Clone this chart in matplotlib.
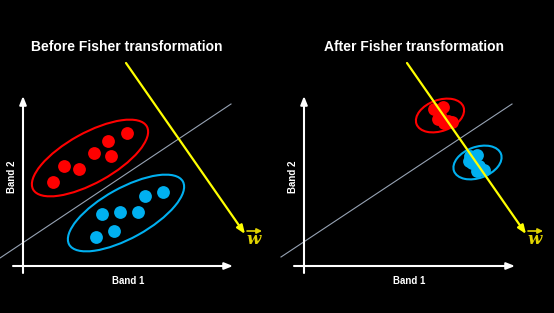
import matplotlib.pyplot as plt
from matplotlib.patches import Ellipse

# pixel-style coordinates, y grows downward
red_before_x = [53, 64, 79, 94, 108, 111, 127]
red_before_y = [182, 166, 169, 153, 141, 156, 133]
blue_before_x = [96, 114, 102, 120, 138, 145, 163]
blue_before_y = [237, 231, 214, 212, 212, 196, 192]

red_after_x = [434, 443, 440, 438, 448, 452, 444]
red_after_y = [109, 107, 115, 119, 121, 122, 123]
blue_after_x = [470, 477, 472, 479, 484, 477, 469]
blue_after_y = [156, 155, 163, 166, 170, 171, 161]

# (cx, cy, width, height, angle)
ellipses_before = [(90, 158, 130, 50, -29), (126, 213, 130, 50, -29)]
ellipses_after = [(440, 115.5, 50, 31, -20), (477.5, 162.5, 50, 31, -20)]

titles = ["Before Fisher transformation", "After Fisher transformation"]
title_x = [127, 414]
axis_x0 = [23, 304]
axis_left = [13, 294]
axis_right = [233, 515]
gray_lines = [((0, 258), (231, 104)), ((281, 257), (512, 104))]
yellow_lines = [((126, 63), (245, 234)), ((407, 63), (526, 234))]
w_pos = [(254, 239), (535, 239)]

RED = "#FF0000"
BLUE = "#00B0F0"
YELLOW = "#FFFF00"
W_COLOR = "#E2D400"

fig = plt.figure(figsize=(5.54, 3.13), dpi=100, facecolor="black")
ax = fig.add_axes([0, 0, 1, 1])
ax.set_facecolor("black")
ax.set_xlim(0, 554)
ax.set_ylim(313, 0)
ax.axis("off")

font = "Liberation Sans"
head = "-|>,head_length=0.5,head_width=0.2"

for i in range(2):
    ax.text(title_x[i], 47, titles[i], color="white", fontsize=10, fontweight="bold",
            family=font, ha="center", va="center")
    # axes arrows
    ax.annotate("", xy=(axis_x0[i], 96), xytext=(axis_x0[i], 273),
                arrowprops=dict(arrowstyle=head, color="white", lw=1.5, shrinkA=0, shrinkB=0))
    ax.annotate("", xy=(axis_right[i], 266), xytext=(axis_left[i], 266),
                arrowprops=dict(arrowstyle=head, color="white", lw=1.5, shrinkA=0, shrinkB=0))
    ax.text(axis_x0[i] - 11, 177, "Band 2", color="white", fontsize=7, fontweight="bold",
            family=font, rotation=90, ha="center", va="center")
    ax.text((axis_left[i] + axis_right[i]) / 2 + 5, 281, "Band 1", color="white", fontsize=7,
            fontweight="bold", family=font, ha="center", va="center")
    (gx0, gy0), (gx1, gy1) = gray_lines[i]
    ax.plot([gx0, gx1], [gy0, gy1], color="#97A3B4", lw=0.8)

# ellipses and points
for (cx, cy, w, h, a), c in zip(ellipses_before + ellipses_after, [RED, BLUE, RED, BLUE]):
    ax.add_patch(Ellipse((cx, cy), w, h, angle=a, fill=False, edgecolor=c, lw=1.5))

ax.scatter(red_before_x, red_before_y, s=85, color=RED, zorder=3, linewidths=0)
ax.scatter(blue_before_x, blue_before_y, s=85, color=BLUE, zorder=3, linewidths=0)
ax.scatter(red_after_x, red_after_y, s=85, color=RED, zorder=3, linewidths=0)
ax.scatter(blue_after_x, blue_after_y, s=85, color=BLUE, zorder=3, linewidths=0)

for i in range(2):
    (x0, y0), (x1, y1) = yellow_lines[i]
    ax.annotate("", xy=(x1, y1), xytext=(x0, y0),
                arrowprops=dict(arrowstyle=head, color=YELLOW, lw=1.6, shrinkA=0, shrinkB=0),
                zorder=4)
    wx, wy = w_pos[i]
    ax.text(wx, wy, "w", color=W_COLOR, fontsize=12, fontweight="bold", fontstyle="italic",
            family="DejaVu Serif", ha="center", va="center")
    ax.annotate("", xy=(wx + 8, wy - 8), xytext=(wx - 7, wy - 8),
                arrowprops=dict(arrowstyle="-|>,head_length=0.3,head_width=0.15", color=W_COLOR,
                                lw=1.2, shrinkA=0, shrinkB=0))

fig.savefig("out.png", dpi=100, facecolor="black")
